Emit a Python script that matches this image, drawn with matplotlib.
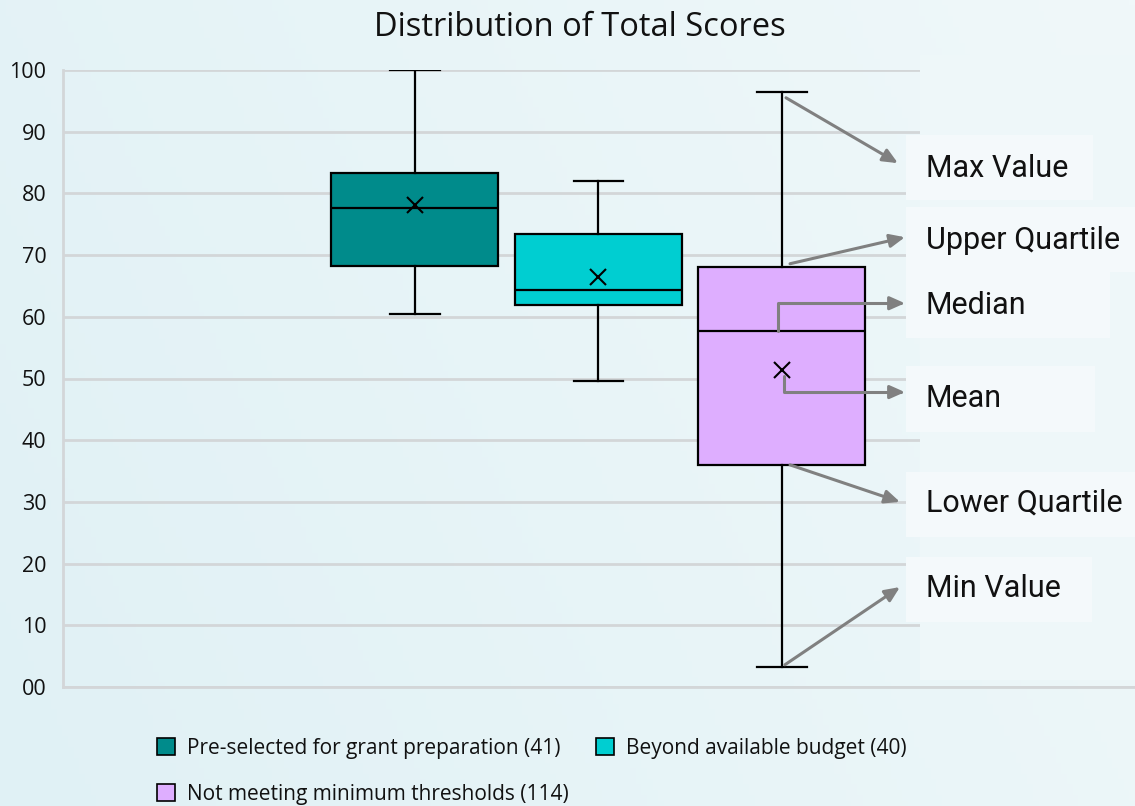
import matplotlib
matplotlib.use("Agg")
import matplotlib.pyplot as plt
import numpy as np
from matplotlib.patches import Rectangle, Patch
from matplotlib import font_manager as fm

# ---------------- data ----------------
categories = ["Pre-selected for grant preparation (41)",
              "Beyond available budget (40)",
              "Not meeting minimum thresholds (114)"]
whis_low = [60.5, 49.6, 3.2]
q1 = [68.2, 61.9, 36.0]
medians = [77.6, 64.3, 57.7]
q3 = [83.3, 73.4, 68.1]
whis_high = [100.0, 82.0, 96.4]
means = [78.1, 66.5, 51.4]
colors = ["#008B8B", "#00CED1", "#DEAEFF"]
yticks = [0, 10, 20, 30, 40, 50, 60, 70, 80, 90, 100]
ytick_labels = ["00", "10", "20", "30", "40", "50", "60", "70", "80", "90", "100"]
annot_labels = ["Max Value", "Upper Quartile", "Median", "Mean", "Lower Quartile", "Min Value"]

# fonts
avail = {f.name for f in fm.fontManager.ttflist}
base_font = "Open Sans" if "Open Sans" in avail else "DejaVu Sans"
narrow_font = "Liberation Sans Narrow" if "Liberation Sans Narrow" in avail else "Roboto"

W, H = 1135, 806
fig = plt.figure(figsize=(W / 100, H / 100), dpi=100)

# background gradient
bg = fig.add_axes([0, 0, 1, 1], zorder=-10)
gx = np.linspace(0, 1, 200)
gy = np.linspace(0, 1, 150)
GX, GY = np.meshgrid(gx, gy)
t = np.clip(0.75 * GX + 0.25 * (1 - GY), 0, 1)
c0 = np.array([0xE0, 0xF1, 0xF5]) / 255
c1 = np.array([0xF0, 0xF8, 0xFA]) / 255
img = c0[None, None, :] * (1 - t[..., None]) + c1[None, None, :] * t[..., None]
bg.imshow(img, aspect="auto", extent=[0, 1, 0, 1], origin="upper")
bg.axis("off")

ax = fig.add_axes([63 / W, 1 - 687 / H, (1135 - 63) / W, (687 - 70) / H])
ax.set_facecolor("none")

positions = [0, 1, 2]
stats = []
for i in range(3):
    stats.append(dict(med=medians[i], q1=q1[i], q3=q3[i], whislo=whis_low[i],
                      whishi=whis_high[i], mean=means[i], fliers=[]))

bp = ax.bxp(stats, positions=positions, widths=0.91, patch_artist=True,
            showmeans=True, showfliers=False, capwidths=0.27,
            boxprops=dict(edgecolor="black", linewidth=1.6),
            medianprops=dict(color="black", linewidth=1.6),
            whiskerprops=dict(color="black", linewidth=1.6),
            capprops=dict(color="black", linewidth=1.6),
            meanprops=dict(marker="x", markeredgecolor="black", markersize=12,
                           markeredgewidth=1.5))
for patch, c in zip(bp["boxes"], colors):
    patch.set_facecolor(c)
for art in bp["boxes"] + bp["medians"] + bp["whiskers"] + bp["caps"] + bp["means"]:
    art.set_zorder(5)

ax.set_xlim(-1.918, 3.924)
ax.set_ylim(0, 100)
ax.set_yticks(yticks)
ax.set_yticklabels(ytick_labels, fontsize=15.5, family=base_font, color="#111111")
ax.set_xticks([])
ax.tick_params(axis="y", length=0, pad=12)
ax.yaxis.grid(True, color="#d3d6d8", linewidth=2)
ax.set_axisbelow(True)
for s in ["top", "right"]:
    ax.spines[s].set_visible(False)
ax.spines["left"].set_color("#d3d6d8")
ax.spines["left"].set_linewidth(2)
ax.spines["bottom"].set_color("#d3d6d8")
ax.spines["bottom"].set_linewidth(2)


# overlay panel on the right (covers gridlines), drawn inside the axes
def px_rect(x0, y0, x1, y1, color, z):
    ax.add_patch(Rectangle((x0 / W, 1 - y1 / H), (x1 - x0) / W, (y1 - y0) / H,
                           transform=fig.transFigure, facecolor=color,
                           edgecolor="none", zorder=z, clip_on=False))


px_rect(920, 55, 1135, 680, "#eef7f9", 1.2)
label_boxes = [(906, 135, 1093, 200), (906, 207, 1135, 272), (906, 272, 1110, 338),
               (906, 366, 1095, 432), (906, 472, 1135, 537), (906, 557, 1092, 622)]
for b in label_boxes:
    px_rect(*b, "#f4f9fb", 1.4)

fig.text(580 / W, 1 - 27 / H, "Distribution of Total Scores", fontsize=23.5,
         family=base_font, color="#111111", ha="center", va="center")

text_x = 2.785
label_y = [84.1, 72.4, 61.9, 46.8, 29.8, 16.0]
for lab, ly in zip(annot_labels, label_y):
    ax.text(text_x, ly, lab, fontsize=22, family=narrow_font, va="center", ha="left",
            zorder=10, color="#111111")

ap = dict(arrowstyle="-|>,head_length=0.9,head_width=0.4", color="#808080", lw=2.2,
          shrinkA=0, shrinkB=0)
p3 = positions[2]
# Max value
ax.annotate("", xy=(2.632, 84.9), xytext=(p3 + 0.022, whis_high[2] - 0.9),
            arrowprops=ap, zorder=9)
# Upper quartile
ax.annotate("", xy=(2.67, 72.9), xytext=(p3 + 0.044, q3[2] + 0.5),
            arrowprops=ap, zorder=9)
# Median (elbow)
ax.annotate("", xy=(2.67, 62.2), xytext=(p3 - 0.022, medians[2]),
            arrowprops=dict(ap, connectionstyle="angle,angleA=90,angleB=0,rad=0"), zorder=9)
# Mean (elbow)
ax.annotate("", xy=(2.67, 47.8), xytext=(p3 + 0.011, means[2] - 1.0),
            arrowprops=dict(ap, connectionstyle="angle,angleA=-90,angleB=0,rad=0"), zorder=9)
# Lower quartile
ax.annotate("", xy=(2.643, 30.0), xytext=(p3 + 0.044, q1[2]),
            arrowprops=ap, zorder=9)
# Min value
ax.annotate("", xy=(2.643, 16.2), xytext=(p3 + 0.016, whis_low[2] + 0.4),
            arrowprops=ap, zorder=9)

# legend (row order)
handles = [Patch(facecolor=c, edgecolor="black", linewidth=1.2) for c in colors]
order = [0, 2, 1]
leg = fig.legend([handles[i] for i in order], [categories[i] for i in order],
                 ncol=2, loc="upper left", bbox_to_anchor=(157 / W, 1 - 738 / H),
                 frameon=False, prop=dict(family=base_font, size=15),
                 borderpad=0, borderaxespad=0,
                 handlelength=0.87, handleheight=0.87, handletextpad=0.58,
                 columnspacing=1.3, labelspacing=1.2)
for txt in leg.get_texts():
    txt.set_color("#111111")

fig.savefig("out.png", dpi=100)
